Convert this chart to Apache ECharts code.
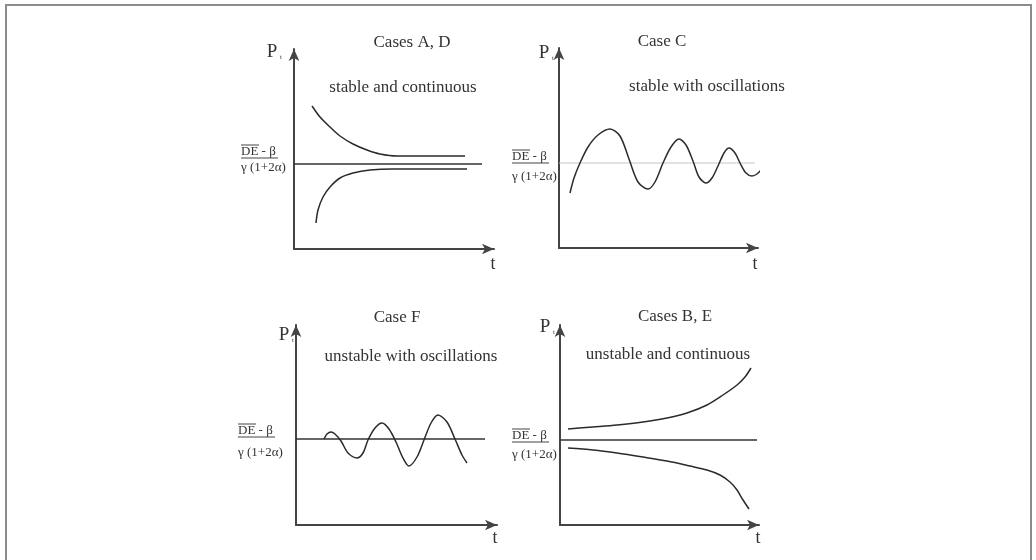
<!DOCTYPE html>
<html>
<head>
<meta charset="utf-8">
<title>Stability cases</title>
<script src="https://cdn.jsdelivr.net/npm/echarts@6/dist/echarts.min.js"></script>
<style>
  html, body { margin: 0; padding: 0; background: #fff; }
  #main { width: 1036px; height: 560px; }
</style>
</head>
<body>
<div id="main"></div>
<script>
// panel titles / subtitles
var titles = ['Cases A, D', 'Case C', 'Case F', 'Cases B, E'];
var subtitles = ['stable and continuous', 'stable with oscillations', 'unstable with oscillations', 'unstable and continuous'];

// equilibrium level in each panel (axis units) and its length along t
var eqLevel = [85, 85, 86, 85];
var eqEnd = [188, 196, 189, 197];

// case A, D : converging from above and below
var caseAD_upper = [[18,143],[26,132],[36,122],[46,113],[59,105],[73,99],[86,95],[103,93],[126,93],[149,93],[171,93]];
var caseAD_lower = [[22,26],[24,39],[29,52],[36,62],[46,71],[59,76],[76,79],[99,80],[126,80],[173,80]];

// case C : damped oscillation
var caseC = [[11,55],[15,70],[21,85],[29,101],[39,113],[51,119],[61,112],[70,89],[79,66],[89,59],[96,66],
  [104,85],[112,101],[120,109],[127,103],[134,87],[140,71],[147,65],[153,70],[159,82],[165,95],[170,100],
  [176,95],[181,85],[187,75],[193,72],[198,74],[203,79]];

// case F : growing oscillation
var caseF = [[28,86],[31,91],[35,93],[39,91],[45,84],[52,72],[61,67],[67,72],[72,85],[79,97],[86,102],
  [93,96],[100,83],[107,67],[113,59],[121,68],[128,85],[135,102],[142,110],[151,103],[159,86],[166,70],[171,62]];

// case B, E : diverging
var caseBE_upper = [[8,96],[33,98],[57,100],[83,103],[107,107],[127,112],[147,120],[163,130],[177,140],[185,148],[191,157]];
var caseBE_lower = [[8,77],[33,75],[57,72],[83,68],[107,64],[130,59],[147,55],[160,50],[170,43],[177,35],[183,25],[189,16]];

var chart = echarts.init(document.getElementById('main'));

var grids = [
  { left: 294, top: 49, width: 200, height: 200 },
  { left: 559, top: 48, width: 199, height: 200 },
  { left: 296, top: 325, width: 201, height: 200 },
  { left: 560, top: 325, width: 199, height: 200 }
];

var axisColor = '#444';
var curveColor = '#2b2b2b';
var serif = '"Liberation Serif", "DejaVu Serif", serif';

function makeAxis(i, max) {
  return {
    type: 'value', gridIndex: i, min: 0, max: max,
    axisLine: { show: true, symbol: ['none', 'arrow'], symbolSize: [8, 12], symbolOffset: [0, 0],
      lineStyle: { color: axisColor, width: 2 } },
    axisTick: { show: false }, axisLabel: { show: false }, splitLine: { show: false }
  };
}

var xAxes = [], yAxes = [];
for (var i = 0; i < 4; i++) {
  xAxes.push(makeAxis(i, grids[i].width));
  yAxes.push(makeAxis(i, 200));
}

function curve(i, data, color, width) {
  return {
    type: 'line', xAxisIndex: i, yAxisIndex: i, data: data,
    smooth: 0.3, showSymbol: false, clip: false, silent: true,
    lineStyle: { color: color || curveColor, width: width || 1.5 }
  };
}

var series = [];
for (var k = 0; k < 4; k++) {
  var eqColor = k === 1 ? '#c4c4c4' : '#333';
  var eqWidth = k === 1 ? 1 : 1.5;
  series.push(curve(k, [[0, eqLevel[k]], [eqEnd[k], eqLevel[k]]], eqColor, eqWidth));
}
series.push(curve(0, caseAD_upper));
series.push(curve(0, caseAD_lower));
series.push(curve(1, caseC));
series.push(curve(2, caseF));
series.push(curve(3, caseBE_upper));
series.push(curve(3, caseBE_lower));

// text annotations
var graphic = [];
graphic.push({ type: 'rect', shape: { x: 6, y: 5, width: 1025, height: 600 },
  style: { fill: 'none', stroke: '#8c8c8c', lineWidth: 2 } });

function txt(x, y, s, size, align) {
  graphic.push({ type: 'text', x: x, y: y,
    style: { text: s, font: size + 'px ' + serif, fill: '#333',
      textAlign: align || 'center', textVerticalAlign: 'middle' } });
}
function hline(x1, x2, y, w) {
  graphic.push({ type: 'line', shape: { x1: x1, y1: y, x2: x2, y2: y },
    style: { stroke: '#444', lineWidth: w || 1 } });
}

var titlePos = [[412, 43], [662, 42], [397, 318], [675, 317]];
var subPos = [[403, 88], [707, 87], [411, 357], [668, 355]];
var pPos = [[272, 52], [544, 53], [284, 335], [545, 327]];
var tPos = [[493, 264], [755, 264], [495, 538], [758, 538]];
// fraction label: [left x, numerator y, bar y, denominator y]
var fracPos = [[241, 152, 158, 168], [512, 157, 163, 177], [238, 431, 437, 453], [512, 436, 442, 455]];

for (var j = 0; j < 4; j++) {
  txt(titlePos[j][0], titlePos[j][1], titles[j], 17);
  txt(subPos[j][0], subPos[j][1], subtitles[j], 17);
  txt(pPos[j][0], pPos[j][1], 'P', 19);
  txt(pPos[j][0] + 8, pPos[j][1] + 5, 't', 7, 'left');
  txt(tPos[j][0], tPos[j][1], 't', 18);
  var f = fracPos[j];
  txt(f[0], f[1], 'DE - β', 13, 'left');
  hline(f[0], f[0] + 37, f[2], 1);
  hline(f[0], f[0] + 18, f[1] - 7, 1);
  txt(f[0], f[3], 'γ (1+2α)', 13, 'left');
}

var option = {
  backgroundColor: '#fff',
  animation: false,
  grid: grids,
  xAxis: xAxes,
  yAxis: yAxes,
  series: series,
  graphic: graphic
};

chart.setOption(option);
</script>
</body>
</html>
